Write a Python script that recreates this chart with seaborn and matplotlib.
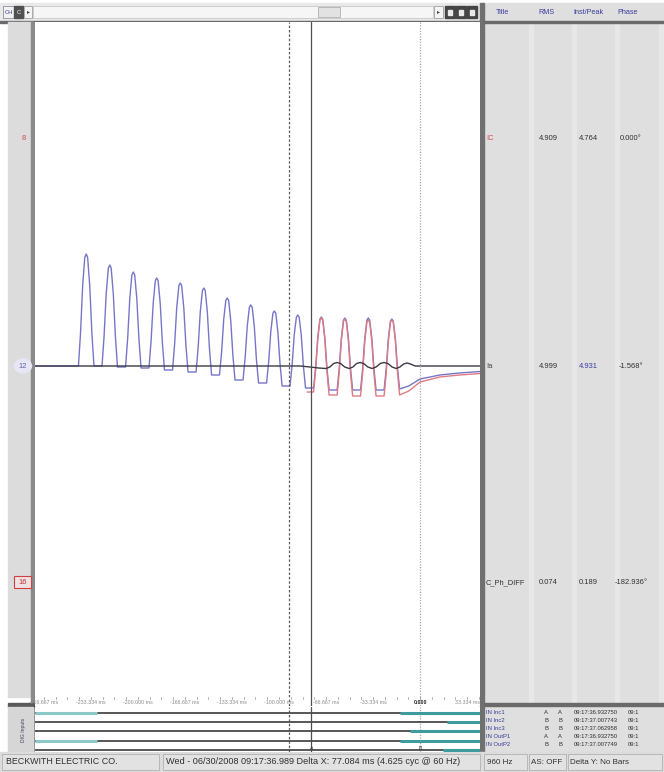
import matplotlib
matplotlib.use('Agg')
import matplotlib.pyplot as plt
from matplotlib.patches import Rectangle, Ellipse
import pandas as pd
import seaborn as sns

# ---- analog record (time in ms, current in A) ----
PEAK_MS = [-236.7, -220.0, -203.3, -186.7, -170.0, -153.3, -136.7,
           -120.0, -103.3, -86.7, -70.0, -53.3, -36.7, -20.0]
IA_PEAK = [11.2, 10.1, 9.4, 8.8, 8.3, 7.8, 6.8, 6.1, 5.5, 5.1, 4.9, 4.8, 4.8, 4.7]
IA_TROUGH = [0.0, -0.1, -0.2, -0.4, -0.6, -0.9, -1.4, -1.7, -2.0, -2.2, -2.4, -2.4, -2.4, -2.3]
IA_TAIL_MS = [-8.0, 0.0, 14.0, 28.0, 42.5]
IA_TAIL = [-2.0, -1.3, -0.9, -0.7, -0.55]

IC_PEAK_MS = [-70.0, -53.3, -36.7, -20.0]
IC_PEAK = [4.8, 4.7, 4.6, 4.6]
IC_TROUGH = [-2.9, -3.0, -3.0, -2.9]
IC_START_MS = -80.0
IC_START = -2.6
IC_TAIL = [-2.5, -1.6, -1.1, -0.9, -0.75]

DIFF_MS = [-273.0, -85.0, -78.0, -72.0, -66.6, -64.0, -61.2, -58.8, -56.4, -53.4, -50.3,
           -47.6, -45.0, -42.5, -40.0, -37.0, -34.0, -31.2, -28.2, -25.5, -22.8, -19.8,
           -17.0, -14.3, -11.6, -9.2, -6.8, -3.5, 42.5]
DIFF = [0.0, 0.0, -0.1, -0.2, -0.25, -0.1, 0.25, 0.35, 0.25, -0.1, -0.25,
        -0.1, 0.25, 0.35, 0.25, -0.1, -0.25, -0.1, 0.25, 0.35, 0.25, -0.1,
        -0.25, -0.1, 0.2, 0.3, 0.2, 0.0, 0.0]

# outline of one inrush lobe around its peak
SHAPE_MS = [-5.5, -4.0, -2.5, -1.0, 0.0, 1.0, 2.5, 4.0, 5.5]
SHAPE_FRAC = [0.0, 0.3, 0.72, 0.97, 1.0, 0.97, 0.72, 0.3, 0.0]

CURSOR_DASH_MS = -93.0
CURSOR_A_MS = -77.084
CURSOR_B_MS = 0.0

TICK_MS = [-266.667, -233.334, -200.0, -166.667, -133.334, -100.0, -66.667, -33.334, 0.0, 33.334]
TICK_LABELS = ["-266.667 ms", "-233.334 ms", "-200.000 ms", "-166.667 ms", "-133.334 ms",
               "-100.000 ms", "-66.667 ms", "-33.334 ms", "0.000", "33.334 ms"]

CH_NAME = ["IC", "Ia", "C_Ph_DIFF"]
CH_NUM = ["8", "12", "16"]
CH_RMS = ["4.909", "4.999", "0.074"]
CH_INST = ["4.764", "4.931", "0.189"]
CH_PHASE = ["0.000°", "-1.568°", "-182.936°"]

DIG_NAME = ["IN Inc1", "IN Inc2", "IN Inc3", "IN OutP1", "IN OutP2"]
DIG_A = ["A", "B", "B", "A", "B"]
DIG_TIME = ["09:17:36.932750", "09:17:37.007743", "09:17:37.062958",
            "09:17:36.932750", "09:17:37.007749"]
DIG_ON = [[(-273.0, -229.0), (-14.2, 42.5)], [(19.1, 42.5)], [(-7.1, 42.5)],
          [(-273.0, -229.0), (-14.2, 42.5)], [(16.3, 42.5)]]

XLIM = (-273.0, 42.5)
YLIM = (-33.1, 34.4)

W, H = 664, 772


def lobes(peak_ms, peak_v, trough_v, t0, v0, tail_ms, tail_v):
    xs, ys = [t0], [v0]
    base = v0
    for tp, vp, tr in zip(peak_ms, peak_v, trough_v):
        for dt, f in zip(SHAPE_MS, SHAPE_FRAC):
            lo = base if dt < 0 else tr
            xs.append(tp + dt)
            ys.append(lo + f * (vp - lo))
        base = tr
    xs += tail_ms
    ys += tail_v
    return pd.DataFrame({"t": xs, "i": ys})


def box(px, py, pw, ph):
    return [px / W, 1 - (py + ph) / H, pw / W, ph / H]


sns.set_theme(style="white")
plt.rcParams['font.family'] = ['Liberation Sans', 'DejaVu Sans']

fig = plt.figure(figsize=(6.64, 7.72), dpi=100)
fig.patch.set_facecolor('white')

# ---- window chrome (pixel coordinates) ----
bg = fig.add_axes([0, 0, 1, 1])
bg.set_xlim(0, W)
bg.set_ylim(H, 0)
bg.axis('off')
bg.add_patch(Rectangle((0, 3), 484, 18, color='#e9e9e9'))
bg.add_patch(Rectangle((33, 6), 400, 12, facecolor='#f6f6f6', edgecolor='#c8c8c8', lw=0.6))
bg.add_patch(Rectangle((318, 7), 22, 10, facecolor='#e2e2e2', edgecolor='#b0b0b0', lw=0.6))
bg.add_patch(Rectangle((3, 6), 11, 12, facecolor='#f2f2f2', edgecolor='#9090a0', lw=0.6))
bg.add_patch(Rectangle((14, 6), 9, 12, color='#505050'))
bg.add_patch(Rectangle((24, 6), 8, 12, facecolor='#f4f4f4', edgecolor='#a0a0a0', lw=0.6))
bg.add_patch(Rectangle((434, 6), 9, 12, facecolor='#f4f4f4', edgecolor='#a0a0a0', lw=0.6))
for bx in (445, 456, 467):
    bg.add_patch(Rectangle((bx, 6), 10, 12, color='#454545'))
    bg.add_patch(Rectangle((bx + 3, 9.5), 4, 5, color='#e8e8e8'))
bg.add_patch(Rectangle((0, 21), 484, 1.5, color='#6a6a6a'))
bg.add_patch(Rectangle((8, 22), 25, 675, color='#dcdcdc'))
bg.add_patch(Rectangle((31, 22), 3, 730, color='#8a8a8a'))
bg.add_patch(Rectangle((8, 703), 26, 4, color='#5a5a5a'))
bg.add_patch(Rectangle((8, 707), 25, 45, color='#d6d6d6'))
bg.add_patch(Rectangle((484, 3), 180, 749, color='#dfdfdf'))
for cx in (529, 572, 615, 659):
    bg.add_patch(Rectangle((cx, 22), 3.5, 683, color='#e7e7e7'))
bg.add_patch(Rectangle((480, 3), 4, 749, color='#707070'))
bg.add_patch(Rectangle((484, 21), 180, 1.5, color='#6a6a6a'))
bg.add_patch(Rectangle((484, 703), 180, 3, color='#6a6a6a'))
bg.add_patch(Rectangle((0, 752), W, 20, color='#dcdcdc'))
for sx, sw in ((2, 157), (163, 317), (484, 43), (529, 37), (568, 94)):
    bg.add_patch(Rectangle((sx, 754), sw, 16, facecolor='#e2e2e2', edgecolor='#a8a8a8', lw=0.5))
bg.add_patch(Ellipse((23, 366), 17, 14, color='#e6e6f6'))
bg.add_patch(Rectangle((14, 576), 17, 12, facecolor='#f0e2e2', edgecolor='#d04040', lw=0.8))

# ---- analog traces ----
ax = fig.add_axes(box(35, 22, 445, 675))
ax.set_facecolor('white')
ia = lobes(PEAK_MS, IA_PEAK, IA_TROUGH, XLIM[0], 0.0, IA_TAIL_MS, IA_TAIL)
ic = lobes(IC_PEAK_MS, IC_PEAK, IC_TROUGH, IC_START_MS, IC_START, IA_TAIL_MS, IC_TAIL)
diff = pd.DataFrame({"t": DIFF_MS, "i": DIFF})
sns.lineplot(data=ia, x="t", y="i", ax=ax, color='#7676c8', lw=1.0, sort=False, estimator=None)
sns.lineplot(data=ic, x="t", y="i", ax=ax, color='#e07a84', lw=1.0, sort=False, estimator=None)
sns.lineplot(data=diff, x="t", y="i", ax=ax, color='#3a3a44', lw=1.0, sort=False, estimator=None)

ax_t = fig.add_axes(box(35, 697, 445, 9))
ax_t.set_facecolor('white')
ax_d = fig.add_axes(box(35, 707, 445, 45))
ax_d.set_facecolor('white')

for a in (ax, ax_t, ax_d):
    a.set_xlim(*XLIM)
    a.set_xticks([])
    a.set_yticks([])
    a.set_xlabel('')
    a.set_ylabel('')
    for s in a.spines.values():
        s.set_visible(False)
    a.axvline(CURSOR_DASH_MS, color='#5a5a5a', lw=0.9, ls=(0, (2, 1.5)))
    a.axvline(CURSOR_A_MS, color='#505050', lw=0.9)
    a.axvline(CURSOR_B_MS, color='#a8a8b0', lw=0.9, ls=(0, (1, 1.2)))
ax.set_ylim(*YLIM)

# time strip
ax_t.set_ylim(1, 0)
step = 33.334 / 4
k = XLIM[0] - XLIM[0] % step
while k < XLIM[1]:
    ax_t.plot([k, k], [0, 0.25], color='#888888', lw=0.5)
    k += step
for tm, lab in zip(TICK_MS, TICK_LABELS):
    bold = lab == "0.000"
    ax_t.text(tm, 0.62, lab, fontsize=3.8, ha='center', va='center',
              color='#202020' if bold else '#8a8a8a', fontweight='bold' if bold else 'normal')

# digital channels
ax_d.set_ylim(752, 707)
for r, spans in enumerate(DIG_ON):
    yy = 713 + 9.2 * r
    ax_d.plot(XLIM, [yy, yy], color='#4a4a4a', lw=1.3)
    for t0, t1 in spans:
        ax_d.plot([t0, t1], [yy, yy], color='#3f9c9c' if t0 > -100 else '#8cc8c8', lw=2.2,
                  solid_capstyle='butt')

# ---- text overlay ----
ui = fig.add_axes([0, 0, 1, 1])
ui.set_xlim(0, W)
ui.set_ylim(H, 0)
ui.axis('off')
ui.patch.set_alpha(0)

ui.text(8.5, 12, "CH", fontsize=4.2, ha='center', va='center', color='#3a3a8a')
ui.text(18.5, 12, "C", fontsize=4.2, ha='center', va='center', color='white')
ui.text(28, 12, "▸", fontsize=4.2, ha='center', va='center', color='#404040')
ui.text(438.5, 12, "▸", fontsize=4.2, ha='center', va='center', color='#404040')
for hx, ht in ((503, "Title"), (546, "RMS"), (588, "Inst/Peak"), (628, "Phase")):
    ui.text(hx, 13, ht, fontsize=5.2, ha='center', va='center', color='#3c3ca0')

rows_y = (138, 366, 583)
num_col = ('#d04848', '#6060a8', '#c03030')
name_col = ('#d04848', '#404040', '#303030')
for i in range(3):
    yy = rows_y[i]
    ui.text(24 if i == 0 else 23, yy, CH_NUM[i], fontsize=5.4, ha='center', va='center', color=num_col[i])
    ui.text(486, yy, CH_NAME[i], fontsize=5.4, ha='left', va='center', color=name_col[i])
    ui.text(548, yy, CH_RMS[i], fontsize=5.4, ha='center', va='center', color='#303030')
    ui.text(588, yy, CH_INST[i], fontsize=5.4, ha='center', va='center',
            color='#3838a0' if i == 1 else '#303030')
    ui.text(631, yy, CH_PHASE[i], fontsize=5.4, ha='center', va='center', color='#303030')

for r in range(5):
    yy = 713 + 8 * r
    ui.text(486, yy, DIG_NAME[r], fontsize=4.2, ha='left', va='center', color='#3a3a9a')
    ui.text(546, yy, DIG_A[r], fontsize=4.2, ha='center', va='center', color='#303030')
    ui.text(560, yy, DIG_A[r], fontsize=4.2, ha='center', va='center', color='#303030')
    ui.text(574, yy, DIG_TIME[r], fontsize=4.2, ha='left', va='center', color='#303030')
    ui.text(628, yy, "09:1", fontsize=4.2, ha='left', va='center', color='#303030')

ui.text(23, 730, "DIG Inputs", fontsize=3.6, rotation=90, ha='center', va='center', color='#404060')
ui.text(312, 748, "A", fontsize=3.8, ha='center', va='center', color='#303030')
ui.text(420, 748, "B", fontsize=3.8, ha='center', va='center', color='#303030')

ui.text(6, 762, "BECKWITH ELECTRIC CO.", fontsize=6.4, ha='left', va='center', color='#303030')
ui.text(166, 762, "Wed - 06/30/2008 09:17:36.989 Delta X: 77.084 ms (4.625 cyc @ 60 Hz)",
        fontsize=6.6, ha='left', va='center', color='#303030')
ui.text(487, 762, "960 Hz", fontsize=5.8, ha='left', va='center', color='#303030')
ui.text(531, 762, "AS: OFF", fontsize=5.8, ha='left', va='center', color='#303030')
ui.text(570, 762, "Delta Y: No Bars", fontsize=5.8, ha='left', va='center', color='#303030')

fig.savefig("out.png", dpi=100)
